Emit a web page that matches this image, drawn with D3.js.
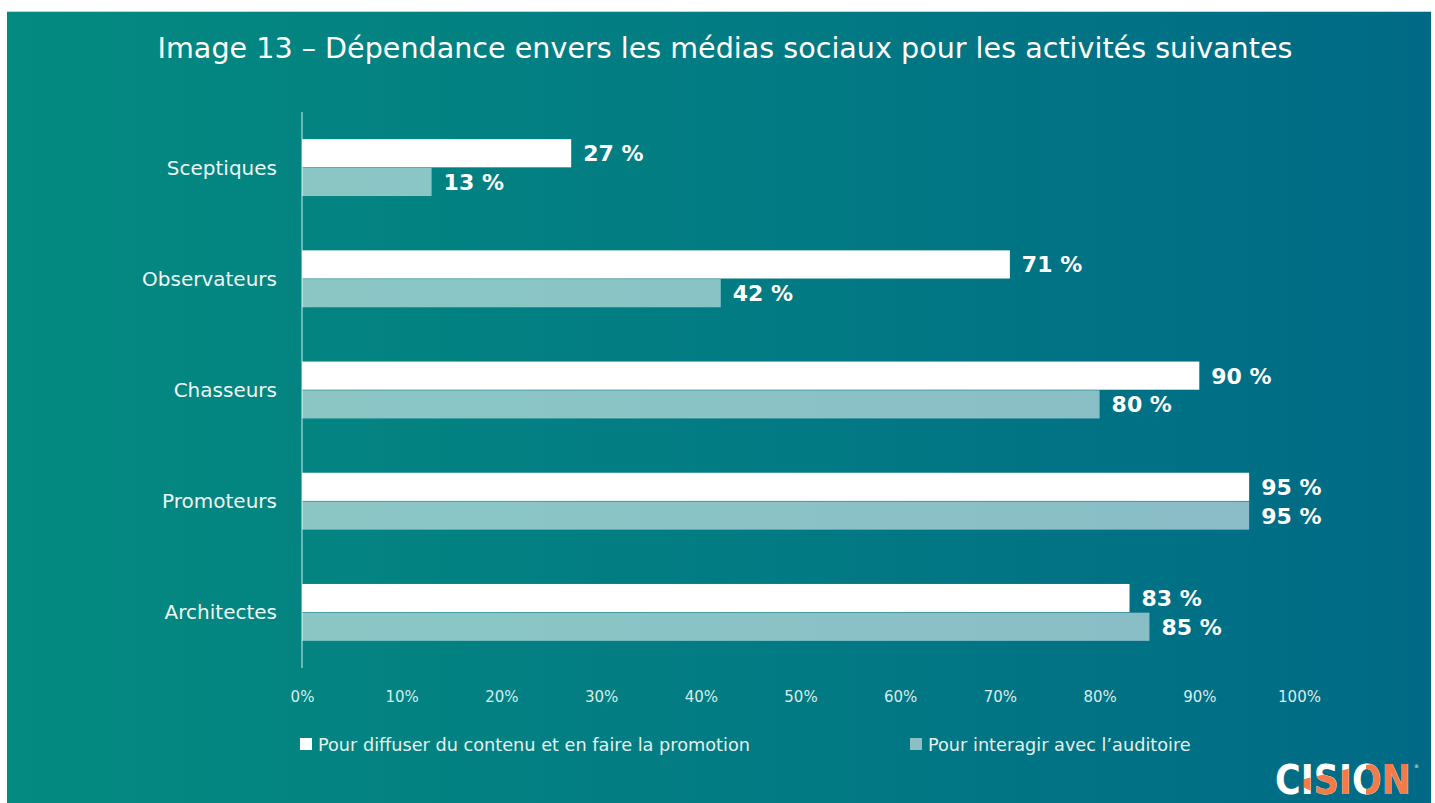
<!DOCTYPE html>
<html>
<head>
<meta charset="utf-8">
<script src="https://cdn.jsdelivr.net/npm/d3@7"></script>
<style>
  html, body { margin: 0; padding: 0; background: #fff; }
  svg { display: block; }
</style>
</head>
<body>
<svg id="chart" width="1435" height="803"></svg>
<script>
// Chart data
const titleText = "Image 13 – Dépendance envers les médias sociaux pour les activités suivantes";
const categories = ["Sceptiques", "Observateurs", "Chasseurs", "Promoteurs", "Architectes"];
const seriesNames = ["Pour diffuser du contenu et en faire la promotion", "Pour interagir avec l’auditoire"];
const diffuserValues = [27, 71, 90, 95, 83];
const interagirValues = [13, 42, 80, 95, 85];
const tickValues = [0, 10, 20, 30, 40, 50, 60, 70, 80, 90, 100];
const tickLabels = ["0%", "10%", "20%", "30%", "40%", "50%", "60%", "70%", "80%", "90%", "100%"];

const W = 1435, H = 803;
const svg = d3.select("#chart");
const FONT = "'DejaVu Sans', 'Noto Sans', sans-serif";

// Background panel with horizontal teal gradient
const defs = svg.append("defs");
const grad = defs.append("linearGradient").attr("id", "bg")
  .attr("x1", "0%").attr("y1", "0%").attr("x2", "100%").attr("y2", "0%");
grad.append("stop").attr("offset", "0%").attr("stop-color", "#048a80");
grad.append("stop").attr("offset", "50%").attr("stop-color", "#027c83");
grad.append("stop").attr("offset", "100%").attr("stop-color", "#006a86");

svg.append("rect").attr("x", 7).attr("y", 11).attr("width", 1424).attr("height", H - 11)
  .attr("fill", "url(#bg)");
svg.append("line").attr("x1", 7).attr("x2", 1431).attr("y1", 11.5).attr("y2", 11.5)
  .attr("stroke", "#c8d0d0").attr("stroke-width", 1);

// Title, fitted to its width
const title = svg.append("text")
  .attr("x", 725).attr("y", 58)
  .attr("text-anchor", "middle")
  .attr("fill", "#ffffff")
  .style("font-family", FONT)
  .style("font-size", "27px")
  .text(titleText);
const tw = title.node().getComputedTextLength();
title.style("font-size", (27 * 1135 / tw).toFixed(2) + "px");

// Scales
const x = d3.scaleLinear().domain([0, 100]).range([302, 1299]);
const y = d3.scaleBand().domain(categories).range([112, 668])
  .paddingInner(0.478).paddingOuter(0.239);
const sub = d3.scaleBand().domain(["diffuser", "interagir"]).range([0, y.bandwidth()]).padding(0.02);

const rows = categories.map((c, i) => ({
  cat: c,
  vals: [
    { key: "diffuser", v: diffuserValues[i] },
    { key: "interagir", v: interagirValues[i] }
  ]
}));

const colors = { diffuser: "#ffffff", interagir: "rgba(255,255,255,0.54)" };

// Bars
const g = svg.append("g");
const groups = g.selectAll("g.row").data(rows).join("g")
  .attr("class", "row")
  .attr("transform", d => `translate(0,${y(d.cat)})`);

groups.selectAll("rect").data(d => d.vals).join("rect")
  .attr("x", x(0))
  .attr("y", d => sub(d.key))
  .attr("width", d => x(d.v) - x(0))
  .attr("height", sub.bandwidth())
  .attr("fill", d => colors[d.key]);

// Value labels
groups.selectAll("text.val").data(d => d.vals).join("text")
  .attr("class", "val")
  .attr("x", d => x(d.v) + 12)
  .attr("y", d => sub(d.key) + sub.bandwidth() / 2 + 8)
  .attr("fill", "#ffffff")
  .style("font-family", FONT)
  .style("font-weight", "bold")
  .style("font-size", "22px")
  .text(d => d.v + " %");

// Category labels
svg.append("g").selectAll("text").data(categories).join("text")
  .attr("x", 277)
  .attr("y", d => y(d) + y.bandwidth() / 2 + 7)
  .attr("text-anchor", "end")
  .attr("fill", "#eef7f6")
  .style("font-family", FONT)
  .style("font-size", "20px")
  .text(d => d);

// Vertical axis line
svg.append("line")
  .attr("x1", x(0)).attr("x2", x(0))
  .attr("y1", 112).attr("y2", 668)
  .attr("stroke", "rgba(255,255,255,0.55)").attr("stroke-width", 1.5);

// Bottom axis: tick labels only
const xAxis = d3.axisBottom(x)
  .tickValues(tickValues)
  .tickSize(0)
  .tickPadding(0)
  .tickFormat((d, i) => tickLabels[i]);
const ax = svg.append("g").attr("transform", "translate(0,702)").call(xAxis);
ax.select(".domain").remove();
ax.selectAll("text")
  .attr("dy", 0).attr("y", 0)
  .attr("fill", "#d7ecea")
  .style("font-family", FONT)
  .style("font-size", "15px");

// Legend
const legendItems = [
  { name: seriesNames[0], key: "diffuser", x: 300 },
  { name: seriesNames[1], key: "interagir", x: 910 }
];
const lg = svg.append("g").selectAll("g").data(legendItems).join("g")
  .attr("transform", d => `translate(${d.x},738)`);
lg.append("rect").attr("width", 12).attr("height", 12).attr("y", 0)
  .attr("fill", d => d.key === "diffuser" ? "#ffffff" : "#8cbfc4");
lg.append("text").attr("x", 18).attr("y", 12.5)
  .attr("fill", "#e2f1f0")
  .style("font-family", FONT)
  .style("font-size", "17.7px")
  .text(d => d.name);

// CISION logo (bottom right)
const logoClip = defs.append("clipPath").attr("id", "logoClip");
const logoTextAttrs = sel => sel
  .attr("x", 1275).attr("y", 794)
  .attr("textLength", 136)
  .attr("lengthAdjust", "spacingAndGlyphs")
  .style("font-family", "'DejaVu Sans Condensed', 'Liberation Sans Narrow', 'DejaVu Sans', sans-serif")
  .style("font-weight", "bold")
  .style("font-size", "40px")
  .text("CISION");
logoClip.append("text").call(logoTextAttrs);
svg.append("text").call(logoTextAttrs).attr("fill", "#ffffff");
const logoOrange = svg.append("g").attr("clip-path", "url(#logoClip)").attr("fill", "#f47a47");
logoOrange.append("polygon").attr("points", "1300,780 1352,768 1352,803 1340,803 1300,786");
logoOrange.append("polygon").attr("points", "1366,765 1430,755 1430,803 1366,803");
svg.append("text").attr("x", 1414).attr("y", 768)
  .attr("fill", "#ffffff").style("font-family", FONT).style("font-size", "5px").text("®");
</script>
</body>
</html>
